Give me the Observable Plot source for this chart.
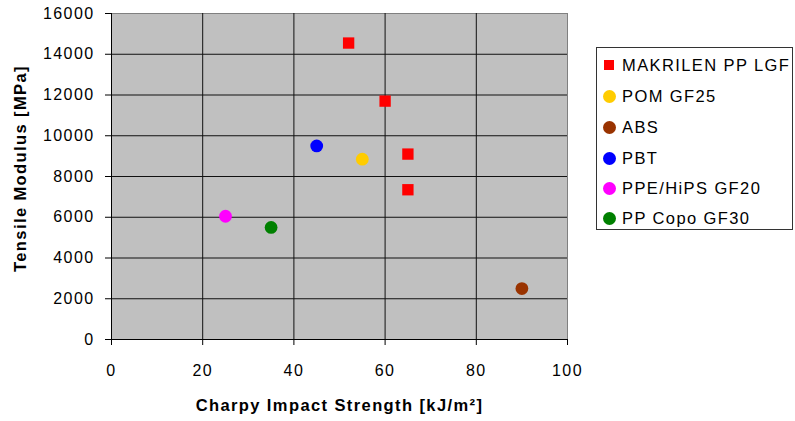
<!DOCTYPE html>
<html>
<head>
<meta charset="utf-8">
<script src="https://cdn.jsdelivr.net/npm/d3@7"></script>
<script src="https://cdn.jsdelivr.net/npm/@observablehq/plot@0.6"></script>
<style>
  body { margin: 0; background: #fff; font-family: "Liberation Sans", Arial, sans-serif; }
  #wrap { position: relative; width: 795px; height: 421px; }
  #legend { position: absolute; left: 596px; top: 47px; width: 197px; height: 183px;
            border: 1px solid #333; box-sizing: border-box; background: #fff; }
  .item { position: absolute; left: 0; height: 20px; display: flex; align-items: center;
          font-size: 16.5px; letter-spacing: 1.4px; color: #000; white-space: nowrap; }
  .mk { position: absolute; }
</style>
</head>
<body>
<div id="wrap"><div id="legend"></div></div>
<script>
const seriesNames = ["MAKRILEN PP LGF", "POM GF25", "ABS", "PBT", "PPE/HiPS GF20", "PP Copo GF30"];
const seriesColors = ["#ff0000", "#ffcc00", "#993300", "#0000ff", "#ff00ff", "#008000"];
const seriesSymbols = ["square", "circle", "circle", "circle", "circle", "circle"];

const pointSeries = ["MAKRILEN PP LGF", "MAKRILEN PP LGF", "MAKRILEN PP LGF", "MAKRILEN PP LGF",
                     "POM GF25", "ABS", "PBT", "PPE/HiPS GF20", "PP Copo GF30"];
const impactStrength = [52, 60, 65, 65, 55, 90, 45, 25, 35];
const tensileModulus = [14550, 11700, 9100, 7350, 8850, 2500, 9500, 6050, 5500];

const xTicks = [0, 20, 40, 60, 80, 100];
const yTicks = [0, 2000, 4000, 6000, 8000, 10000, 12000, 14000, 16000];

const data = pointSeries.map((s, i) => ({series: s, x: impactStrength[i], y: tensileModulus[i]}));

const chart = Plot.plot({
  width: 795,
  height: 421,
  marginLeft: 111,
  marginRight: 228,
  marginTop: 13,
  marginBottom: 82,
  style: {fontFamily: "'Liberation Sans', Arial, sans-serif", fontSize: "16px", letterSpacing: "1.4px", color: "#000", background: "#fff"},
  x: {domain: [0, 100], ticks: xTicks, label: null},
  y: {domain: [0, 16000], ticks: yTicks, label: null, tickFormat: "d"},
  color: {domain: seriesNames, range: seriesColors},
  symbol: {domain: seriesNames, range: seriesSymbols},
  marks: [
    Plot.frame({fill: "#c0c0c0", stroke: "#808080"}),
    Plot.gridX(xTicks.slice(1, -1), {stroke: "#111", strokeOpacity: 1}),
    Plot.gridY(yTicks.slice(1, -1), {stroke: "#111", strokeOpacity: 1}),
    Plot.ruleX([0], {stroke: "#000"}),
    Plot.ruleY([0], {stroke: "#000"}),
    Plot.axisX({ticks: xTicks, tickSize: 6, tickPadding: 19, label: null, fontSize: 16}),
    Plot.axisY({ticks: yTicks, tickSize: 6, tickPadding: 11, label: null, fontSize: 16, tickFormat: "d"}),
    Plot.dot(data, {x: "x", y: "y", fill: "series", symbol: "series", r: 6.4, stroke: null}),
    Plot.text(["Charpy Impact Strength [kJ/m²]"], {frameAnchor: "bottom", textAnchor: "middle", dy: 66, lineAnchor: "middle", fontWeight: "bold", fontSize: 16.5}),
    Plot.text(["Tensile Modulus [MPa]"], {frameAnchor: "left", textAnchor: "middle", dx: -91, dy: -8, rotate: -90, lineAnchor: "middle", fontWeight: "bold", fontSize: 16.5})
  ]
});
document.getElementById("wrap").prepend(chart);

const legend = document.getElementById("legend");
const rowTops = [17, 48, 79, 110, 140, 170];
seriesNames.forEach((name, i) => {
  const item = document.createElement("div");
  item.className = "item";
  item.style.top = (rowTops[i] - 10) + "px";
  const mk = document.createElement("div");
  mk.className = "mk";
  if (seriesSymbols[i] === "square") {
    mk.style.cssText = `left:7px;top:5px;width:10px;height:10px;background:${seriesColors[i]}`;
  } else {
    mk.style.cssText = `left:5.5px;top:3.5px;width:13px;height:13px;border-radius:50%;background:${seriesColors[i]}`;
  }
  item.appendChild(mk);
  const t = document.createElement("span");
  t.textContent = name;
  t.style.marginLeft = "25px";
  item.appendChild(t);
  legend.appendChild(item);
});
</script>
</body>
</html>
